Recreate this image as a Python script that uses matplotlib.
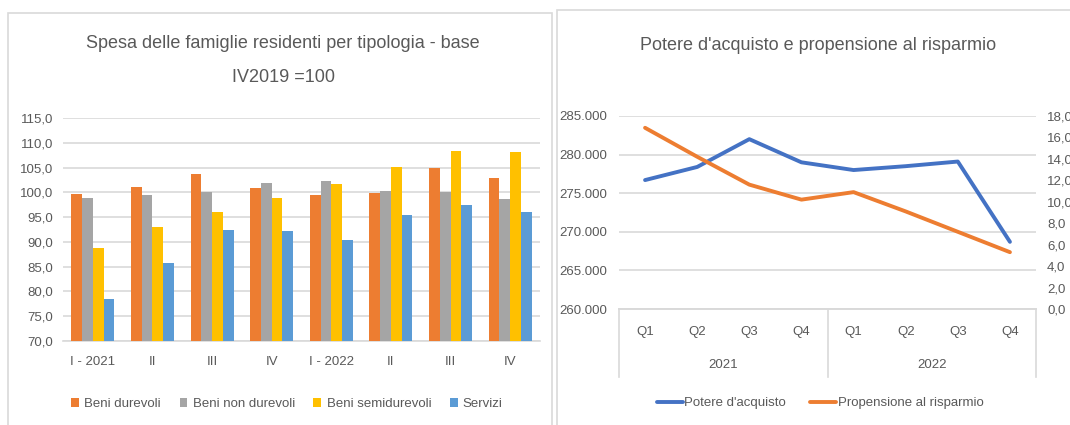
import numpy as np
import matplotlib.pyplot as plt
from matplotlib.patches import Rectangle
from matplotlib.lines import Line2D
from matplotlib.ticker import FuncFormatter, MultipleLocator
import matplotlib.transforms as mtransforms

plt.rcParams['font.family'] = ['Liberation Sans', 'DejaVu Sans']

# -----------------------------------------------------------
# data: spending by type (base IV2019 = 100)
trimestri = ["I - 2021", "II", "III", "IV", "I - 2022", "II", "III", "IV"]
beni_durevoli = [99.7, 101.1, 103.7, 100.9, 99.5, 99.9, 105.0, 102.9]
beni_non_durevoli = [98.9, 99.4, 100.1, 101.8, 102.2, 100.3, 100.0, 98.7]
beni_semidurevoli = [88.8, 93.1, 96.0, 98.9, 101.6, 105.2, 108.3, 108.2]
servizi = [78.5, 85.7, 92.5, 92.1, 90.4, 95.4, 97.5, 96.0]

# data: purchasing power and saving propensity
quarters = ["Q1", "Q2", "Q3", "Q4", "Q1", "Q2", "Q3", "Q4"]
anni = ["2021", "2022"]
potere_acquisto = [276700, 278400, 282000, 279000, 278000, 278500, 279100, 268700]
propensione_risparmio = [16.9, 14.2, 11.6, 10.2, 10.9, 9.1, 7.2, 5.3]
# -----------------------------------------------------------

grey_txt = '#595959'
grid_col = '#D9D9D9'
fs_tick = 9.5
fs_title = 13

fig = plt.figure(figsize=(10.7, 4.25), dpi=100)

# panel frames
fig.patches.append(Rectangle((8 / 1070, -0.02), 544 / 1070, 1 - 13 / 425 + 0.02,
                             transform=fig.transFigure, fill=False,
                             edgecolor=grid_col, linewidth=1.2))
fig.patches.append(Rectangle((557 / 1070, -0.02), 0.5, 1 - 10 / 425 + 0.02,
                             transform=fig.transFigure, fill=False,
                             edgecolor=grid_col, linewidth=1.2))

# ---------------- left chart --------------------------------
ax1 = fig.add_axes([63 / 1070, 1 - 341 / 425, 477 / 1070, 223 / 425])
x = np.arange(len(trimestri))
w = 0.18
series = [(beni_durevoli, '#ED7D31', 'Beni durevoli'),
          (beni_non_durevoli, '#A5A5A5', 'Beni non durevoli'),
          (beni_semidurevoli, '#FFC000', 'Beni semidurevoli'),
          (servizi, '#5B9BD5', 'Servizi')]
for i, (vals, col, lab) in enumerate(series):
    ax1.bar(x + (i - 1.5) * w, np.array(vals) - 70, w, bottom=70,
            color=col, label=lab, zorder=3)
ax1.set_ylim(70, 115)
ax1.set_xlim(-0.5, len(trimestri) - 0.5)
ax1.yaxis.set_major_locator(MultipleLocator(5))
ax1.yaxis.set_major_formatter(FuncFormatter(lambda v, p: f"{v:.1f}".replace('.', ',')))
ax1.set_xticks(x)
ax1.set_xticklabels(trimestri)
ax1.grid(axis='y', color=grid_col, linewidth=1.2, zorder=0)
for s in ['top', 'right', 'left']:
    ax1.spines[s].set_visible(False)
ax1.spines['bottom'].set_color(grid_col)
ax1.spines['bottom'].set_linewidth(1.2)
ax1.tick_params(axis='both', length=0, labelsize=fs_tick, colors=grey_txt)
ax1.tick_params(axis='x', pad=11)
ax1.tick_params(axis='y', pad=7)

fig.text(283 / 1070, 1 - 44 / 425, "Spesa delle famiglie residenti per tipologia - base",
         ha='center', va='center', fontsize=fs_title, color=grey_txt)
fig.text(283 / 1070, 1 - 78 / 425, "IV2019 =100",
         ha='center', va='center', fontsize=fs_title, color=grey_txt)

h1, l1 = ax1.get_legend_handles_labels()
fig.legend(h1, l1, loc='center', bbox_to_anchor=(287 / 1070, 1 - 404 / 425), ncol=4,
           frameon=False, fontsize=fs_tick, labelcolor=grey_txt, handlelength=0.6,
           handleheight=0.6, handletextpad=0.4, columnspacing=1.4)

# ---------------- right chart -------------------------------
ax2 = fig.add_axes([619 / 1070, 1 - 309 / 425, 417 / 1070, 193 / 425])
ax3 = ax2.twinx()
xq = np.arange(len(quarters))
ax2.plot(xq, potere_acquisto, color='#4472C4', linewidth=2.8, zorder=3,
         solid_capstyle='round', label="Potere d'acquisto")
ax3.plot(xq, propensione_risparmio, color='#ED7D31', linewidth=2.8, zorder=3,
         solid_capstyle='round', label="Propensione al risparmio")
ax2.set_ylim(260000, 285000)
ax3.set_ylim(0, 18)
ax2.set_xlim(-0.5, len(quarters) - 0.5)
ax2.yaxis.set_major_locator(MultipleLocator(5000))
ax2.yaxis.set_major_formatter(FuncFormatter(lambda v, p: f"{v:,.0f}".replace(',', '.')))
ax3.yaxis.set_major_locator(MultipleLocator(2))
ax3.yaxis.set_major_formatter(FuncFormatter(lambda v, p: f"{v:.1f}".replace('.', ',')))
ax2.grid(axis='y', color=grid_col, linewidth=1.2, zorder=0)
for a in (ax2, ax3):
    for s in ['top', 'right', 'left']:
        a.spines[s].set_visible(False)
    a.spines['bottom'].set_color(grid_col)
    a.spines['bottom'].set_linewidth(1.2)
    a.tick_params(axis='both', length=0, labelsize=fs_tick, colors=grey_txt)
ax2.tick_params(axis='y', pad=8.5)
ax3.tick_params(axis='y', pad=8)
ax2.set_xticks(xq)
ax2.set_xticklabels(quarters)
ax2.tick_params(axis='x', pad=12)

# multi-level category axis
trans = mtransforms.blended_transform_factory(ax2.transData, ax2.transAxes)
for xs in [-0.5, 3.5, 7.5]:
    ax2.add_line(Line2D([xs, xs], [0, -0.35], transform=trans, color=grid_col,
                        linewidth=1.2, clip_on=False))
for i, anno in enumerate(anni):
    ax2.text(1.5 + 4 * i, -0.29, anno, transform=trans, ha='center', va='center',
             fontsize=fs_tick, color=grey_txt)

fig.text(818 / 1070, 1 - 45 / 425, "Potere d'acquisto e propensione al risparmio",
         ha='center', va='center', fontsize=fs_title, color=grey_txt)

h2, l2 = ax2.get_legend_handles_labels()
h3, l3 = ax3.get_legend_handles_labels()
fig.legend(h2 + h3, l2 + l3, loc='center', bbox_to_anchor=(820 / 1070, 1 - 403 / 425),
           ncol=2, frameon=False, fontsize=fs_tick, labelcolor=grey_txt, handlelength=2.0,
           handletextpad=0.1, columnspacing=1.8)

plt.savefig("out.png", dpi=100)
